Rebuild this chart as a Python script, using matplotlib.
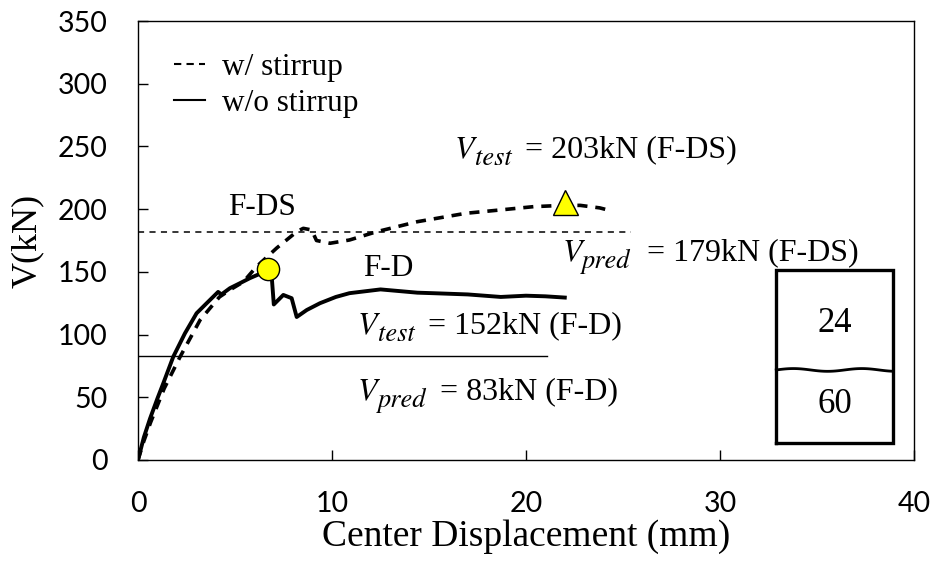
import numpy as np
import matplotlib
matplotlib.use("Agg")
import matplotlib.pyplot as plt
from matplotlib.transforms import offset_copy
from matplotlib.lines import Line2D

# ---- data ----
# w/o stirrup (F-D), solid
fd_x = [0, 0.3, 0.62, 1.0, 1.30, 1.82, 2.42, 3.02, 3.54, 4.13, 4.3, 4.74, 5.26, 5.77,
        6.37, 6.72, 6.88, 7.0, 7.49, 7.92, 8.18, 8.70, 9.38, 10.2, 10.9, 12.5, 14.4,
        15.2, 17.0, 18.7, 20.0, 21.0, 22.0]
fd_y = [0, 18, 33, 49, 61, 82.4, 101, 117, 125, 134, 132, 137, 141, 145,
        149, 151.5, 149, 124, 131.6, 129, 114, 119.6, 125, 130, 133, 136, 133.4,
        133, 132, 130, 131, 130.5, 129.5]

# w/ stirrup (F-DS), dashed
fds_x = [0, 0.3, 0.65, 1.35, 2.16, 3.2, 4.2, 4.74, 5.43, 6.1, 7.15, 8.18, 8.52, 8.95,
         9.2, 9.9, 10.9, 12.3, 14.4, 16.9, 18.7, 20.4, 21.9, 22.8, 23.8, 24.2]
fds_y = [0, 15, 30, 57, 82, 111.6, 130, 135.6, 142, 154, 169, 182, 184.7, 183.4,
         175, 172.8, 175.4, 182, 190, 196.7, 199.4, 202, 203, 203, 201, 199.4]

pred_fds = 182     # drawn level of V_pred (F-DS) line
pred_fds_xmax = 25.4
pred_fd = 83
pred_fd_xmax = 21.1

peak_fd = (6.7, 152)
peak_fds = (22.0, 206)

xticks = [0, 10, 20, 30, 40]
yticks = [0, 50, 100, 150, 200, 250, 300, 350]

# inset schematic box (data coords)
box_x = (32.9, 38.9)
box_y = (13.3, 151.5)
box_split = 71.8
box_top_label = "24"
box_bot_label = "60"

serif = ['Liberation Serif', 'DejaVu Serif']
mathfam = ['STIXGeneral', 'DejaVu Serif']

fig = plt.figure(figsize=(9.36, 5.64), dpi=100)
ax = fig.add_axes([138/936, 1 - 460/564, (914-138)/936, (460-21)/564])
renderer = fig.canvas.get_renderer()

ax.plot(fd_x, fd_y, color='black', lw=2.8, solid_joinstyle='round')
ax.plot(fds_x, fds_y, color='black', lw=2.6, dashes=(2.8, 2.2))
ax.plot([0, pred_fds_xmax], [pred_fds, pred_fds], color='black', lw=1.1, dashes=(4, 3.5))
ax.plot([0, pred_fd_xmax], [pred_fd, pred_fd], color='black', lw=1.0)

ax.plot(*peak_fd, marker='o', ms=16, mfc='#FFFF00', mec='black', mew=1.0, zorder=5)
ax.plot(*peak_fds, marker='^', ms=18, mfc='#FFFF00', mec='black', mew=1.0, zorder=5)

# legend
h1 = Line2D([], [], color='black', lw=1.5, dashes=(3.5, 2.5))
h2 = Line2D([], [], color='black', lw=1.5)
ax.legend([h1, h2], ['w/ stirrup', 'w/o stirrup'], frameon=False,
          loc='upper left', bbox_to_anchor=(0.03, 0.955),
          prop={'family': serif, 'size': 22.5}, handlelength=1.0,
          handletextpad=0.55, labelspacing=0.2, borderaxespad=0)

tkw = dict(family=serif, fontsize=22.5)
ax.text(6.4, 201, 'F-DS', ha='center', va='center', **tkw)
ax.text(12.9, 153, 'F-D', ha='center', va='center', **tkw)


def v_label(x, y, sub, rest, rest_dx):
    """Italic V with a large italic subscript, then the plain-text rest."""
    tv = ax.text(x, y, 'V', family=mathfam, style='italic', fontsize=23,
                 ha='left', va='baseline')
    wv = tv.get_window_extent(renderer).width * 72.0 / fig.dpi
    tr = offset_copy(ax.transData, fig=fig, x=wv + 0.3, y=-5.5, units='points')
    ax.text(x, y, sub, transform=tr, family=mathfam, style='italic', fontsize=19,
            ha='left', va='baseline')
    tr2 = offset_copy(ax.transData, fig=fig, x=rest_dx, y=0, units='points')
    ax.text(x, y, rest, transform=tr2, family=serif, fontsize=23,
            ha='left', va='baseline')


v_label(16.34, 241.6, 'test', '= 203kN (F-DS)', 50.4)
v_label(21.86, 159, 'pred', '= 179kN (F-DS)', 61)
v_label(11.34, 101.3, 'test', '= 152kN (F-D)', 50.4)
v_label(11.34, 48.5, 'pred', '= 83kN (F-D)', 59)

# inset box
ax.plot([box_x[0], box_x[1], box_x[1], box_x[0], box_x[0]],
        [box_y[0], box_y[0], box_y[1], box_y[1], box_y[0]], color='black', lw=2.4,
        solid_joinstyle='miter', clip_on=False)
wx = np.linspace(box_x[0], box_x[1], 80)
wy = box_split + 1.1 * np.sin((wx - box_x[0]) / (box_x[1] - box_x[0]) * 2 * np.pi * 1.7)
ax.plot(wx, wy, color='black', lw=2.0)
ax.text(np.mean(box_x), 109, box_top_label, ha='center', va='center', family=serif, fontsize=25)
ax.text(np.mean(box_x), 44, box_bot_label, ha='center', va='center', family=serif, fontsize=25)

ax.set_xlim(0, 40)
ax.set_ylim(0, 350)
ax.set_xticks(xticks)
ax.set_yticks(yticks)
ax.tick_params(direction='in', length=7, width=1.0)
ax.tick_params(axis='y', pad=22)
ax.tick_params(axis='x', pad=22)
for lab in ax.get_xticklabels() + ax.get_yticklabels():
    lab.set_family(['Lato', 'DejaVu Sans'])
    lab.set_fontsize(20.5)
for s in ax.spines.values():
    s.set_linewidth(1.0)

ax.set_xlabel('Center Displacement (mm)', family=serif, fontsize=27, labelpad=2)
ax.set_ylabel('V(kN)', family=serif, fontsize=26, labelpad=10)

fig.savefig('out.png', dpi=100)
